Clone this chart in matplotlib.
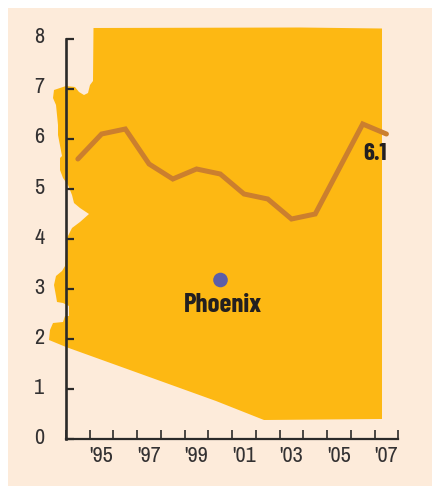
import matplotlib
matplotlib.use('Agg')
import matplotlib.pyplot as plt
import matplotlib.transforms as mtrans
from matplotlib.patches import Polygon, Rectangle, Circle

plt.rcParams['font.family'] = ['Archivo Narrow', 'Barlow Condensed', 'Liberation Sans', 'DejaVu Sans']
bold_font = ['Barlow Condensed', 'Liberation Sans', 'DejaVu Sans']

years = [1994, 1995, 1996, 1997, 1998, 1999, 2000, 2001, 2002, 2003, 2004, 2005, 2006, 2007]
values = [5.6, 6.1, 6.2, 5.5, 5.2, 5.4, 5.3, 4.9, 4.8, 4.4, 4.5, 5.4, 6.3, 6.1]
y_ticks = [0, 1, 2, 3, 4, 5, 6, 7, 8]
label_years = [1995, 1997, 1999, 2001, 2003, 2005, 2007]
x_labels = ["'95", "'97", "'99", "'01", "'03", "'05", "'07"]

# state outline, traced in image pixels
map_x = [93.5, 300, 382, 382, 264, 216, 66, 49, 50, 53, 63, 65, 69, 69, 63, 57, 56, 54, 56, 62,
         65, 66, 67, 72, 80, 89, 80, 74, 72, 68, 63, 60, 60, 62, 58, 58, 56, 53, 54, 66, 75, 79,
         84, 88, 90, 93]
map_y = [28, 27.5, 28.5, 419, 420, 401, 347, 340, 330, 323, 322, 316, 316, 306, 303, 302, 296, 285,
         276, 271, 266, 250, 238, 228, 222, 214, 208, 203, 195, 185, 178, 170, 158, 156, 135, 125,
         105, 98, 90, 86, 87, 92, 95, 93, 85, 81]

W, H = 432, 486
fig = plt.figure(figsize=(W / 100, H / 100), dpi=100, facecolor='white')

# background panel and map, in pixels
bg = fig.add_axes([0, 0, 1, 1])
bg.set_xlim(0, W)
bg.set_ylim(H, 0)
bg.axis('off')
bg.add_patch(Rectangle((8, 8), W - 8, H - 8, color='#FDEBDA', lw=0))
bg.add_patch(Polygon(list(zip(map_x, map_y)), closed=True, color='#FDB813', lw=0))
bg.add_patch(Circle((220.5, 280), 7.3, color='#5B5EA6', lw=0))
bg.text(222.5, 312, 'Phoenix', fontsize=19.5, family=bold_font, fontweight='bold', color='#231F20',
        ha='center', va='baseline')
bg.text(375.5, 160, '6.1', fontsize=18, family=bold_font, fontweight='bold', color='#231F20',
        ha='center', va='baseline')

# chart axes
ax = fig.add_axes([66 / W, (H - 439) / H, (398.3 - 66) / W, 400 / H])
ax.patch.set_alpha(0)
ax.plot(years, values, color='#CB7F2E', linewidth=3.6, solid_capstyle='round', solid_joinstyle='miter', clip_on=False)
ax.set_xlim(1993.5, 2007.5)
ax.set_ylim(0, 8)

for s in ['top', 'right']:
    ax.spines[s].set_visible(False)
ax.spines['left'].set_linewidth(1.9)
ax.spines['bottom'].set_linewidth(1.6)
ax.spines['left'].set_color('#2B2A29')
ax.spines['bottom'].set_color('#2B2A29')

ax.set_yticks(y_ticks)
ax.tick_params(axis='y', direction='in', length=6, width=1.6, color='#2B2A29', pad=15.5,
               labelsize=16, labelcolor='#333132')
ax.set_xticks([y + 0.5 for y in range(1993, 2008)])
ax.set_xticklabels([])
ax.tick_params(axis='x', which='major', direction='in', length=6.5, width=1.2, color='#2B2A29')
ax.set_xticks(label_years, minor=True)
ax.set_xticklabels(x_labels, minor=True)
ax.tick_params(axis='x', which='minor', length=0, pad=5, labelsize=16, labelcolor='#333132')

shift = mtrans.ScaledTranslation(0, 3.5 / 100, fig.dpi_scale_trans)
for lab in ax.get_yticklabels():
    lab.set_transform(lab.get_transform() + shift)

fig.savefig('out.png', dpi=100)
